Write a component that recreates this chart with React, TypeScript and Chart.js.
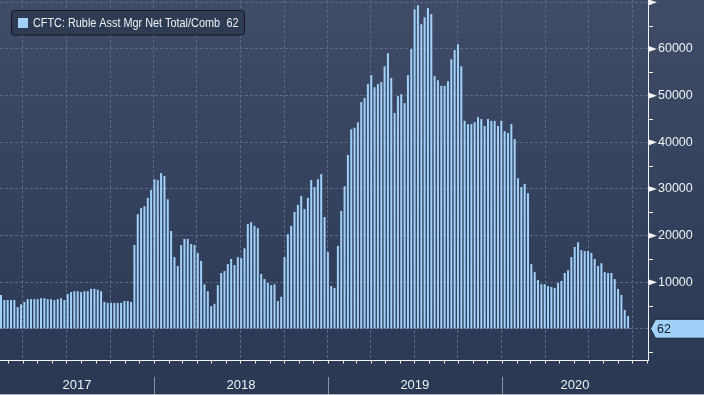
import React, { useEffect, useRef } from 'react';
import { Chart, registerables } from 'chart.js';

Chart.register(...registerables);

// ---------- data ----------
const START_DATE = '2017-02-14'; // first weekly report (Tuesday)
const WEEK_DAYS = 7;
const seriesName = 'CFTC: Ruble Asst Mgr Net Total/Comb';
const lastValueLabel = '62';

const netPositions = [
  7300, 6200, 6200, 6200, 6200, 4700, 5300, 5800, 6400, 6400,
  6400, 6400, 6600, 6600, 6400, 6400, 6200, 6400, 6600, 6200,
  7500, 7900, 8100, 8100, 7900, 8100, 8100, 8600, 8600, 8400,
  8100, 5800, 5600, 5600, 5600, 5600, 5600, 6000, 6000, 5800,
  18000, 24600, 25900, 26300, 28100, 29800, 32100, 31900, 33400, 32800,
  27800, 21000, 15400, 13500, 18000, 19300, 19300, 18200, 18000, 16300,
  14600, 9600, 8100, 4900, 5400, 9400, 12000, 12400, 13900, 15000,
  13700, 15400, 15200, 17300, 22500, 22900, 22100, 21600, 11800, 10700,
  9900, 9400, 9600, 6000, 6900, 15400, 20300, 22100, 25100, 26600,
  28500, 25700, 28100, 31900, 30400, 32100, 33200, 24000, 16500, 9200,
  8800, 17800, 25300, 30600, 37300, 42800, 43100, 44300, 48600, 49500,
  52500, 54400, 51800, 52500, 52900, 56300, 59100, 53800, 46300, 49900,
  50300, 48400, 54400, 60000, 68500, 69400, 65300, 66800, 68800, 67500,
  54200, 53300, 52100, 52100, 53100, 57800, 59800, 61000, 56300, 44600,
  43900, 43900, 44300, 45400, 45000, 43500, 45000, 44600, 44600, 43500,
  44600, 42400, 42000, 43900, 40700, 32300, 30400, 31100, 29100, 13900,
  12200, 10500, 9600, 9600, 9200, 9000, 8800, 9900, 10300, 12000,
  12600, 15400, 17600, 18600, 16900, 16700, 16700, 16300, 15000, 13500,
  14100, 12200, 12000, 12000, 10700, 8600, 7300, 4100, 2800, 62,
];

const yearLabels = ['2017', '2018', '2019', '2020'];
const yTickLabelValues = [10000, 20000, 30000, 40000, 50000, 60000];
const yGridStep = 5000;

// ---------- view ----------
const X_MIN = -2.1;
const X_MAX = 1357.8;
const Y_MIN = -6643;
const Y_MAX = 70500;

const BAR_COLOR = '#9fd1fb';
const GRID_COLOR = '#596a85';
const TEXT_COLOR = '#eef1f5';
const AXIS_COLOR = '#f2f4f7';
const FONT = '"Liberation Sans", Arial, sans-serif';

const DAY_MS = 86400000;
const startMs = Date.parse(START_DATE + 'T00:00:00Z');
const dayOf = (y: number, m: number) => (Date.UTC(y, m, 1) - startMs) / DAY_MS;

const points = netPositions.map((v, i) => ({ x: i * WEEK_DAYS, y: v }));

const yearNums = yearLabels.map((s) => parseInt(s, 10));
const yearStarts = yearNums.map((y) => dayOf(y, 0)).filter((d) => d > X_MIN && d < X_MAX);
const yearMids = yearNums.map((y) => {
  const a = Math.max(X_MIN, dayOf(y, 0));
  const b = Math.min(X_MAX, dayOf(y + 1, 0));
  return (a + b) / 2;
});
const quarterDays: number[] = [];
const monthDays: number[] = [];
for (const y of yearNums) {
  for (let m = 0; m < 12; m++) {
    const d = dayOf(y, m);
    if (d <= X_MIN || d >= X_MAX) continue;
    monthDays.push(d);
    if (m % 3 === 0) quarterDays.push(d);
  }
}
const yGridValues: number[] = [];
for (let v = -5000; v <= 70000; v += yGridStep) yGridValues.push(v);

const zeroPadding = (s: any) => {
  s.paddingLeft = 0;
  s.paddingRight = 0;
  s.paddingTop = 0;
  s.paddingBottom = 0;
};

const overlay = {
  id: 'bbgOverlay',
  beforeDraw(chart: any) {
    const { ctx, width, height } = chart;
    const g = ctx.createLinearGradient(0, 0, 0, height);
    g.addColorStop(0, '#404c67');
    g.addColorStop(1, '#2a3853');
    ctx.save();
    ctx.fillStyle = g;
    ctx.fillRect(0, 0, width, height);
    ctx.restore();
  },
  afterDraw(chart: any) {
    const { ctx, chartArea, scales, height, width } = chart;
    const { left, right, top, bottom } = chartArea;
    const xs = scales.x;
    const ys = scales.y;
    ctx.save();
    ctx.lineWidth = 1;
    ctx.strokeStyle = AXIS_COLOR;
    // axis lines
    ctx.beginPath();
    ctx.moveTo(left, bottom + 0.5);
    ctx.lineTo(right + 1, bottom + 0.5);
    ctx.moveTo(right + 0.5, top);
    ctx.lineTo(right + 0.5, bottom + 1);
    ctx.stroke();
    // monthly ticks
    ctx.beginPath();
    for (const d of monthDays) {
      const px = Math.round(xs.getPixelForValue(d)) + 0.5;
      ctx.moveTo(px, bottom);
      ctx.lineTo(px, bottom + 3.5);
    }
    ctx.stroke();
    // y ticks
    ctx.fillStyle = AXIS_COLOR;
    for (const v of yGridValues) {
      const py = ys.getPixelForValue(v);
      if (v % 10000 === 0) {
        if (v === 0) continue;
        ctx.beginPath();
        ctx.moveTo(right + 1, py - 2.8);
        ctx.lineTo(right + 9, py);
        ctx.lineTo(right + 1, py + 2.8);
        ctx.closePath();
        ctx.fill();
      } else {
        const yy = Math.round(py) + 0.5;
        ctx.beginPath();
        ctx.moveTo(right + 1, yy);
        ctx.lineTo(right + 5, yy);
        ctx.stroke();
      }
    }
    // year separators
    ctx.strokeStyle = '#8893a8';
    ctx.beginPath();
    for (const d of yearStarts) {
      const px = Math.round(xs.getPixelForValue(d)) + 0.5;
      ctx.moveTo(px, bottom + 17);
      ctx.lineTo(px, height);
    }
    ctx.stroke();
    // bottom edge line
    ctx.strokeStyle = '#aab2bf';
    ctx.beginPath();
    ctx.moveTo(0, height - 0.5);
    ctx.lineTo(width, height - 0.5);
    ctx.stroke();

    // last value tag
    const last = netPositions[netPositions.length - 1];
    const py = ys.getPixelForValue(last);
    ctx.beginPath();
    ctx.moveTo(right + 2.5, py);
    ctx.lineTo(right + 7.5, py - 9.5);
    ctx.lineTo(width + 1, py - 9.5);
    ctx.lineTo(width + 1, py + 9.5);
    ctx.lineTo(right + 7.5, py + 9.5);
    ctx.closePath();
    ctx.fillStyle = BAR_COLOR;
    ctx.fill();
    ctx.strokeStyle = '#1a2130';
    ctx.stroke();
    ctx.fillStyle = '#121826';
    ctx.font = '12.5px ' + FONT;
    ctx.textBaseline = 'middle';
    ctx.textAlign = 'left';
    ctx.fillText(lastValueLabel, right + 9, py + 0.5);

    // legend box
    ctx.beginPath();
    (ctx as any).roundRect(11.5, 10.5, 233, 24.5, 3);
    ctx.fillStyle = 'rgba(44,56,80,0.85)';
    ctx.fill();
    ctx.strokeStyle = '#11151d';
    ctx.stroke();
    ctx.fillStyle = BAR_COLOR;
    ctx.fillRect(18, 18, 10, 10);
    ctx.font = '12.5px ' + FONT;
    ctx.textBaseline = 'alphabetic';
    ctx.fillStyle = TEXT_COLOR;
    const w = ctx.measureText(seriesName).width;
    const sx = 187 / w;
    ctx.save();
    ctx.translate(33, 27.4);
    ctx.scale(sx, 1);
    ctx.fillText(seriesName, 0, 0);
    ctx.restore();
    ctx.save();
    ctx.translate(226.5, 27.4);
    ctx.scale(sx, 1);
    ctx.fillText(lastValueLabel, 0, 0);
    ctx.restore();

    ctx.restore();
  },
};

export default function App() {
  const ref = useRef<HTMLCanvasElement | null>(null);
  useEffect(() => {
    if (!ref.current) return;
    const chart = new Chart(ref.current, {
      type: 'bar',
      data: {
        datasets: [
          {
            label: seriesName,
            data: points as any,
            backgroundColor: BAR_COLOR,
            borderWidth: 0,
            barPercentage: 0.75,
            categoryPercentage: 0.8,
            xAxisID: 'x',
            yAxisID: 'y',
          },
        ],
      },
      options: {
        responsive: false,
        animation: false,
        layout: { padding: 0, autoPadding: false },
        plugins: { legend: { display: false }, tooltip: { enabled: false } },
        scales: {
          x: {
            type: 'linear',
            position: 'bottom',
            offset: false,
            min: X_MIN,
            max: X_MAX,
            afterBuildTicks: (s: any) => {
              s.ticks = quarterDays.map((v) => ({ value: v }));
            },
            ticks: { display: false },
            grid: { color: GRID_COLOR, lineWidth: 1, drawTicks: false, offset: false },
            border: { display: false, dash: [3, 2] },
            afterFit: (s: any) => {
              s.height = 0;
              zeroPadding(s);
            },
          },
          xYear: {
            type: 'linear',
            position: 'bottom',
            offset: false,
            min: X_MIN,
            max: X_MAX,
            afterBuildTicks: (s: any) => {
              s.ticks = yearMids.map((v) => ({ value: v }));
            },
            ticks: {
              autoSkip: false,
              maxRotation: 0,
              padding: 18,
              color: TEXT_COLOR,
              font: { family: FONT, size: 13 },
              callback: (_v: any, i: number) => yearLabels[i],
            },
            grid: { display: false, drawTicks: false },
            border: { display: false },
            afterFit: (s: any) => {
              s.height = 35;
              zeroPadding(s);
            },
          },
          y: {
            type: 'linear',
            position: 'right',
            min: Y_MIN,
            max: Y_MAX,
            afterBuildTicks: (s: any) => {
              s.ticks = yGridValues.map((v) => ({ value: v }));
            },
            ticks: {
              autoSkip: false,
              padding: 10,
              color: TEXT_COLOR,
              font: { family: FONT, size: 12.5 },
              callback: (v: any) => (yTickLabelValues.includes(Number(v)) ? String(v) : ''),
            },
            grid: {
              color: (c: any) =>
                c.tick && c.tick.value % 10000 === 0 && c.tick.value >= 0 ? GRID_COLOR : 'rgba(0,0,0,0)',
              lineWidth: 1,
              drawTicks: false,
            },
            border: { display: false, dash: [3, 2] },
            afterFit: (s: any) => {
              s.width = 56;
              zeroPadding(s);
            },
          },
        },
      } as any,
      plugins: [overlay],
    });
    return () => chart.destroy();
  }, []);
  return (
    <div style={{ position: 'absolute', left: 0, top: 0, width: 704, height: 395 }}>
      <canvas ref={ref} width={704} height={395} style={{ width: 704, height: 395, display: 'block' }} />
    </div>
  );
}
